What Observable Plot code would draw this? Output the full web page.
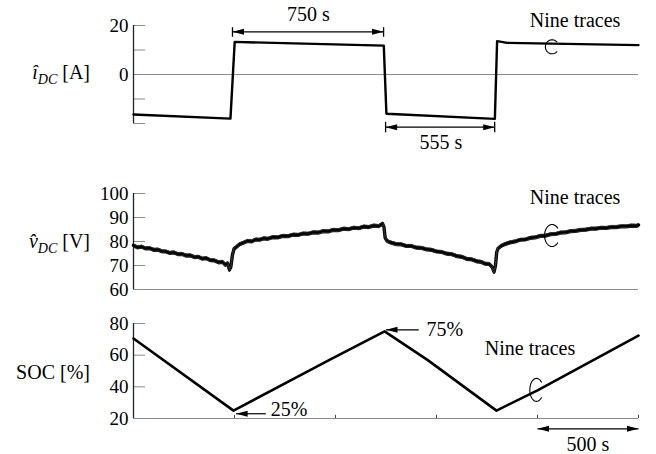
<!DOCTYPE html>
<html><head><meta charset="utf-8">
<script src="https://cdn.jsdelivr.net/npm/d3@7"></script>
<script src="https://cdn.jsdelivr.net/npm/@observablehq/plot@0.6"></script>
<style>
body{margin:0;background:#fff;}
#wrap{position:relative;width:656px;height:454px;font-family:"Liberation Serif",serif;background:#fff;}
#wrap svg{display:block;}
#wrap svg text{font-family:"Liberation Serif",serif;}
.ylab{position:absolute;font-family:"Liberation Serif",serif;font-size:20px;white-space:nowrap;line-height:20px;text-align:right;color:#000;}
.ylab sub{font-size:14px;font-style:italic;vertical-align:baseline;position:relative;top:5px;}
</style></head><body>
<div id="wrap"></div>
<script>
// ---- data: current (A)
const curTime  = [0, 480, 501, 1239, 1252, 1789, 1800, 1850, 2500];
const curValue = [-16.3, -18.0, 13.3, 11.8, -16.0, -18.1, 13.6, 12.9, 12.0];

// ---- data: voltage (V), overlapped traces read as one noisy band
const voltTime = [0,20,40,60,80,100,120,140,160,180,200,220,240,260,280,300,320,340,360,380,400,420,440,455,465,475,482,490,498,510,525,545,565,585,605,625,645,665,690,715,740,765,790,815,840,865,890,915,940,965,990,1015,1040,1065,1090,1115,1140,1165,1190,1215,1233,1240,1246,1255,1275,1300,1325,1350,1375,1400,1425,1450,1475,1500,1525,1550,1575,1600,1625,1650,1675,1700,1720,1740,1760,1775,1785,1792,1798,1805,1820,1840,1865,1890,1915,1940,1965,1990,2015,2040,2065,2090,2115,2140,2165,2190,2215,2240,2265,2290,2315,2340,2365,2390,2415,2440,2465,2490,2500];
const voltValue = [78.4,77.6,77.9,77.2,77.3,76.6,76.7,76.0,75.9,75.3,75.5,74.8,74.9,74.2,74.3,73.6,73.7,72.9,73.1,72.3,72.2,71.4,71.6,70.3,71.0,68.2,69.5,74.5,77.0,77.8,78.9,79.6,80.3,80.1,80.9,80.8,81.4,81.2,81.9,81.8,82.4,82.3,82.9,82.8,83.4,83.3,83.9,83.8,84.4,84.3,84.9,84.8,85.4,85.2,85.8,85.6,86.3,86.1,86.7,86.5,87.5,86.0,81.5,80.3,79.6,79.0,78.9,78.2,78.2,77.5,77.4,76.8,76.6,75.9,75.7,75.0,74.8,74.0,73.7,72.8,72.6,71.8,71.6,70.8,70.7,69.5,67.3,70.0,75.5,77.2,78.2,79.0,79.7,80.1,80.8,80.9,81.6,81.8,82.4,82.5,83.1,83.2,83.8,83.9,84.4,84.5,84.9,85.0,85.4,85.4,85.8,85.7,86.1,86.1,86.4,86.4,86.7,86.6,86.9];

// ---- data: state of charge (%)
const socTime  = [0, 495, 975, 1243, 1455, 1797, 2000, 2500];
const socValue = [70.5, 25, 57.4, 75, 57, 25, 37.8, 72.4];

// ---- tick values
const curTicks = [20, 10, -10, -20];
const curLabels = [20, 0];
const voltTicks = [100, 90, 80, 70];
const voltLabels = [100, 90, 80, 70, 60];
const socTicks = [80, 60, 40];
const socLabels = [80, 60, 40, 20];
const timeTicks = [500, 1000, 1500, 2000, 2500];

// ---- annotations (data coordinates)
const spanTop = [{t1: 490, t2: 1238, v: 17.4, b1: 19.3, b2: 15.4, label: "750 s", lt: 866, lv: 21.8}];
const spanBottom = [{t1: 1248, t2: 1788, v: -21.5, b1: -19.3, b2: -23.6, label: "555 s", lt: 1522, lv: -30.3}];
const ninePos = {cur: [2186, 19.4, 2072, 11.3], volt: [2186, 95.8, 2072, 82.5], soc: [1963, 59.8, 1995, 38.1]};
const socMarks = [{tip: 1250, tail: 1412, v: 76, label: "75%", lt: 1450, lv: 71.8},
                  {tip: 508, tail: 655, v: 23, label: "25%", lt: 680, lv: 21.7}];
const span500 = {t1: 2000, t2: 2500, v: 13.5, label: "500 s", lt: 2250, lv: -0.5};

const cur = curTime.map((t, i) => ({t, v: curValue[i]}));
const volt = voltTime.map((t, i) => ({t, v: voltValue[i]}));
const soc = socTime.map((t, i) => ({t, v: socValue[i]}));

function head(dir) {
  return {draw(ctx, size) {
    const r = Math.sqrt(size / Math.PI), L = 2.3 * r * dir, H = 0.6 * r;
    ctx.moveTo(0, 0); ctx.lineTo(-L, -H); ctx.lineTo(-L, H); ctx.closePath();
  }};
}
function loop(ax, ay) {
  return {draw(ctx, size) {
    const r = Math.sqrt(size / Math.PI), n = 48, a0 = 0.22 * Math.PI, a1 = 1.78 * Math.PI;
    for (let k = 0; k <= n; k++) {
      const a = a0 + (a1 - a0) * k / n, px = r * ax * Math.cos(a), py = r * ay * Math.sin(a);
      k ? ctx.lineTo(px, py) : ctx.moveTo(px, py);
    }
  }};
}

const W = 656, ML = 133, MR = 18, FS = 20;
const txt = {fontFamily: "Liberation Serif", fontSize: FS, fill: "black"};

function yAxisMarks(ticks, labels, tickLen) {
  return [
    Plot.ruleY(ticks, {x1: 0, x2: tickLen, stroke: "#8a8a8a", strokeWidth: 1}),
    Plot.axisY({ticks: labels, tickSize: 0, tickPadding: 5, label: null, fontSize: 19, fontFamily: "Liberation Serif", tickFormat: d => String(d)}),
    Plot.ruleX([0], {stroke: "#222", strokeWidth: 1.3})
  ];
}
function plotBase(h, mt, mb, yDomain, marks) {
  return Plot.plot({
    width: W, height: h, marginLeft: ML, marginRight: MR, marginTop: mt, marginBottom: mb,
    x: {domain: [0, 2500], axis: null},
    y: {domain: yDomain},
    style: {fontFamily: "Liberation Serif", fontSize: "19px", background: "white", overflow: "visible", color: "black"},
    marks
  });
}
function spanMarks(s, bars) {
  const m = [
    Plot.link([s], {x1: "t1", x2: "t2", y1: "v", y2: "v", stroke: "black", strokeWidth: 1.2}),
    Plot.dot([s], {x: "t1", y: "v", r: 5, symbol: head(-1), fill: "black", stroke: "none"}),
    Plot.dot([s], {x: "t2", y: "v", r: 5, symbol: head(1), fill: "black", stroke: "none"}),
    Plot.text([s], {x: "lt", y: "lv", text: "label", lineAnchor: "bottom", textAnchor: "middle", ...txt})
  ];
  if (bars) {
    m.push(Plot.link([s], {x1: "t1", x2: "t1", y1: "b1", y2: "b2", stroke: "black", strokeWidth: 1.3}));
    m.push(Plot.link([s], {x1: "t2", x2: "t2", y1: "b1", y2: "b2", stroke: "black", strokeWidth: 1.3}));
  }
  return m;
}
function nineMarks(p, sym, r) {
  return [
    Plot.text([p], {x: d => d[0], y: d => d[1], text: () => "Nine traces", lineAnchor: "bottom", textAnchor: "middle", ...txt}),
    Plot.dot([p], {x: d => d[2], y: d => d[3], r, symbol: sym, fill: "none", stroke: "black", strokeWidth: 1.1})
  ];
}

const p1 = plotBase(150, 25, 27, [-20, 20], [
  Plot.ruleY([0], {stroke: "#8a8a8a", strokeWidth: 1}),
  ...yAxisMarks(curTicks, curLabels, 60),
  Plot.line(cur, {x: "t", y: "v", stroke: "black", strokeWidth: 2.4}),
  ...spanMarks(spanTop[0], true),
  ...spanMarks(spanBottom[0], true),
  ...nineMarks(ninePos.cur, loop(0.95, 1), 7)
]);

const p2 = plotBase(150, 43, 11, [60, 100], [
  Plot.ruleY([60], {stroke: "#8a8a8a", strokeWidth: 1}),
  ...yAxisMarks(voltTicks, voltLabels, 60),
  Plot.line(volt, {x: "t", y: "v", stroke: "black", strokeWidth: 3.4, strokeLinejoin: "round"}),
  Plot.line(volt, {x: "t", y: d => d.v - 0.7, stroke: "#222", strokeWidth: 1.2}),
  Plot.line(volt, {x: "t", y: d => d.v + 0.6, stroke: "#333", strokeWidth: 0.9}),
  ...nineMarks(ninePos.volt, loop(0.68, 1), 11)
]);

const p3 = plotBase(154, 23, 36, [20, 80], [
  Plot.ruleY([20], {stroke: "#8a8a8a", strokeWidth: 1}),
  Plot.ruleX(timeTicks, {y1: 20, y2: 22, stroke: "#444", strokeWidth: 1}),
  ...yAxisMarks(socTicks, socLabels, 60),
  Plot.line(soc, {x: "t", y: "v", stroke: "black", strokeWidth: 2.6}),
  Plot.link(socMarks, {x1: "tip", x2: "tail", y1: "v", y2: "v", stroke: "black", strokeWidth: 1.2}),
  Plot.dot(socMarks, {x: "tip", y: "v", r: 5, symbol: head(-1), fill: "black", stroke: "none"}),
  Plot.text(socMarks, {x: "lt", y: "lv", text: "label", lineAnchor: "bottom", textAnchor: "start", ...txt}),
  ...spanMarks(span500, false),
  ...nineMarks(ninePos.soc, loop(0.58, 1), 11.5)
]);

const wrap = document.getElementById("wrap");
wrap.append(p1, p2, p3);

const labels = [
  {html: '<i>î</i><sub>DC</sub> [A]', top: 62},
  {html: '<i>v̂</i><sub>DC</sub> [V]', top: 231},
  {html: 'SOC [%]', top: 362}
];
for (const l of labels) {
  const d = document.createElement("div");
  d.className = "ylab";
  d.style.right = (W - 90) + "px";
  d.style.top = l.top + "px";
  d.innerHTML = l.html;
  wrap.append(d);
}
</script>
</body></html>
